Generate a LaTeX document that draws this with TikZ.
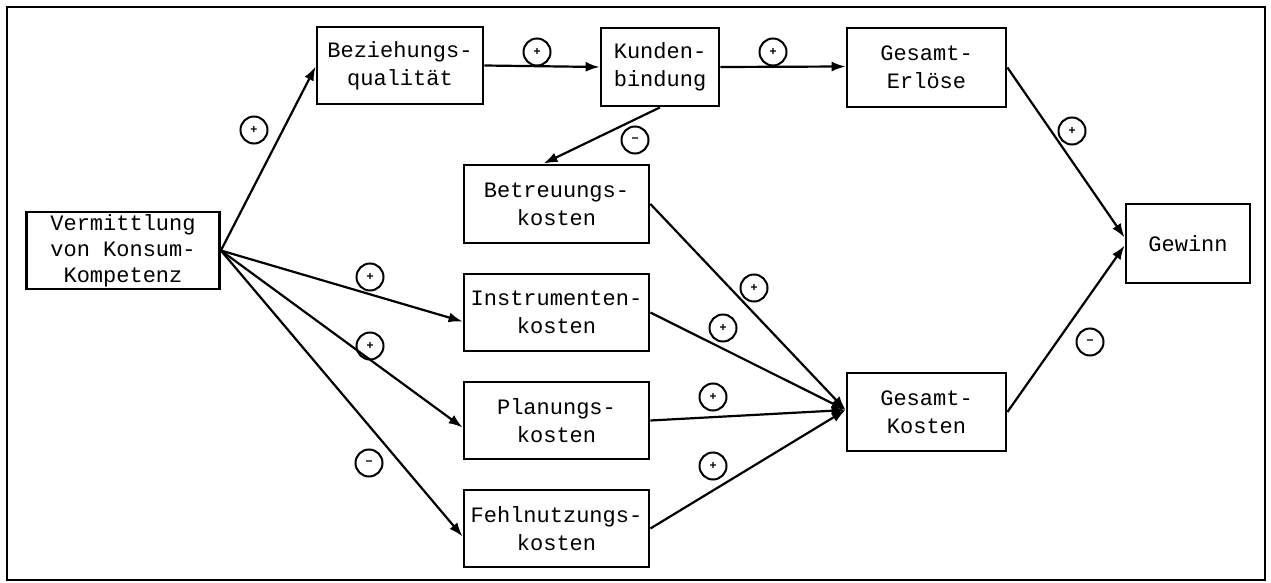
\documentclass[tikz,border=0pt]{standalone}
\usepackage{fontspec}
\setmainfont{Liberation Mono}
\newfontfamily\signfont{Liberation Sans}
\usetikzlibrary{arrows.meta}
\begin{document}
\begin{tikzpicture}[x=1pt,y=-1pt,
  box/.style={draw,line width=2.8pt,align=center,inner sep=0pt,
    font=\fontsize{22}{28}\selectfont},
  conn/.style={line width=2.2pt,-{Latex[length=14pt,width=10pt]}},
  sign/.style={draw,circle,line width=2pt,minimum size=27pt,inner sep=0pt,
    font=\signfont\fontsize{12}{12}\selectfont\bfseries}]
\useasboundingbox (0,0) rectangle (1271,583);
\draw[line width=2.4pt] (7,7) rectangle (1265,580);

\node[box,minimum width=193pt,minimum height=77pt,font=\fontsize{22}{26}\selectfont] (verm) at (123,250.5) {Vermittlung\\von Konsum-\\Kompetenz};
\node[box,minimum width=166pt,minimum height=77pt] (bez) at (400,65.5) {Beziehungs-\\qualität};
\node[box,minimum width=118pt,minimum height=78pt] (kun) at (660,67) {Kunden-\\bindung};
\node[box,minimum width=159pt,minimum height=79pt] (erl) at (926.5,67.5) {Gesamt-\\Erlöse};
\node[box,minimum width=185pt,minimum height=78pt] (betr) at (556.5,204) {Betreuungs-\\kosten};
\node[box,minimum width=185pt,minimum height=77pt] (instr) at (556.5,312.5) {Instrumenten-\\kosten};
\node[box,minimum width=185pt,minimum height=77pt] (plan) at (556.5,420.5) {Planungs-\\kosten};
\node[box,minimum width=185pt,minimum height=77pt] (fehl) at (556.5,528.5) {Fehlnutzungs-\\kosten};
\node[box,minimum width=159pt,minimum height=78pt] (gk) at (926.5,412) {Gesamt-\\Kosten};
\node[box,minimum width=124pt,minimum height=79pt] (gew) at (1188,243.5) {Gewinn};

\draw[conn] (verm.east) -- ([yshift=-1pt]bez.west);
\draw[conn] (verm.east) -- ([yshift=-9pt]instr.west);
\draw[conn] (verm.east) -- ([yshift=-7pt]plan.west);
\draw[conn] (verm.east) -- ([yshift=-8pt]fehl.west);
\draw[conn] (bez.east) -- (kun.west);
\draw[conn] (kun.east) -- ([yshift=1pt]erl.west);
\draw[conn] (kun.south) -- ([xshift=-13pt]betr.north);
\draw[conn] (betr.east) -- ([yshift=2pt]gk.west);
\draw[conn] (instr.east) -- ([yshift=2pt]gk.west);
\draw[conn] (plan.east) -- ([yshift=2pt]gk.west);
\draw[conn] (fehl.east) -- ([yshift=2pt]gk.west);
\draw[conn] (erl.east) -- ([yshift=6pt]gew.west);
\draw[conn] (gk.east) -- ([yshift=-2pt]gew.west);

\node[sign] (s1) at (254,130) {+};
\node[sign] (s2) at (370,277) {+};
\node[sign] (s3) at (370,346) {+};
\node[sign] (s4) at (369,463) {−};
\node[sign] (s5) at (537,52) {+};
\node[sign] (s6) at (773,52) {+};
\node[sign] (s7) at (635,140) {−};
\node[sign] (s8) at (754,288) {+};
\node[sign] (s9) at (723,328) {+};
\node[sign] (s10) at (713,397) {+};
\node[sign] (s11) at (713,466) {+};
\node[sign] (s12) at (1072,131) {+};
\node[sign] (s13) at (1090,342) {−};
\end{tikzpicture}
\end{document}
